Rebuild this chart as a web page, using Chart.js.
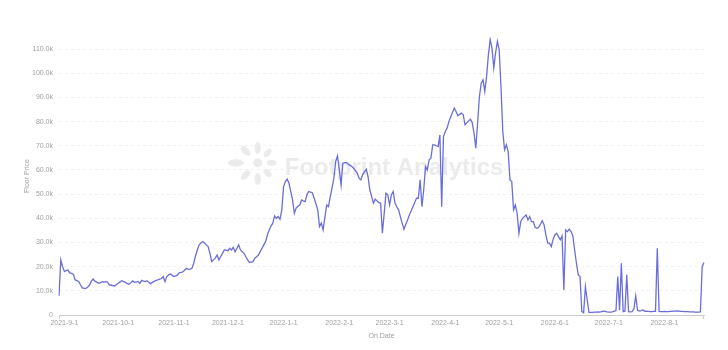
<!DOCTYPE html>
<html>
<head>
<meta charset="utf-8">
<script src="https://cdn.jsdelivr.net/npm/chart.js@4.4.0/dist/chart.umd.min.js"></script>
<style>
html, body { margin: 0; padding: 0; background: #fff; }
#floorchart { display: block; }
</style>
</head>
<body>
<canvas id="floorchart" width="728" height="350"></canvas>
<script>
// Daily floor price (in thousands), first day 2021-8-29
const startDay = Date.UTC(2021, 7, 29);
const floorPriceK = [
  7.9, 22.8, 20.0, 18.0, 18.4, 18.6, 17.4, 17.2, 16.8, 14.5,
  14.2, 13.8, 12.4, 11.2, 11.0, 11.0, 11.6, 12.4, 14.0, 14.9,
  14.0, 13.6, 13.1, 13.4, 13.8, 13.5, 13.8, 13.6, 12.4, 12.4,
  12.2, 12.0, 12.6, 13.1, 13.7, 14.2, 13.8, 13.5, 13.0, 12.7,
  13.4, 14.1, 13.5, 13.7, 13.9, 13.1, 14.3, 14.0, 13.8, 14.2,
  13.5, 12.9, 13.5, 13.9, 14.3, 14.5, 14.8, 15.1, 15.9, 13.8,
  15.9, 16.6, 17.0, 16.4, 15.9, 16.2, 16.6, 17.5, 17.6, 17.9,
  18.6, 19.3, 18.9, 19.0, 19.3, 21.4, 24.5, 26.9, 29.0, 29.8,
  30.4, 29.8, 29.0, 28.3, 25.5, 22.1, 22.8, 23.5, 24.8, 22.8,
  24.2, 25.5, 26.9, 26.8, 26.6, 27.6, 26.9, 28.0, 26.2, 27.5,
  29.0, 26.9, 26.2, 25.5, 24.1, 22.8, 21.7, 21.9, 22.1, 23.5,
  24.1, 24.8, 26.2, 27.6, 29.0, 30.4, 33.1, 35.2, 36.8, 38.0,
  41.0, 40.0, 40.7, 39.6, 43.5, 53.1, 55.2, 56.2, 54.5, 51.0,
  47.6, 42.1, 44.2, 45.0, 45.5, 47.6, 47.2, 46.9, 49.7, 51.1,
  50.8, 50.6, 48.3, 46.0, 43.5, 36.6, 38.0, 35.2, 40.5, 45.5,
  44.9, 49.0, 52.8, 56.6, 63.5, 65.8, 60.0, 53.8, 62.8, 63.0,
  63.1, 62.4, 61.9, 61.4, 60.7, 59.7, 58.7, 56.6, 55.9, 58.0,
  59.2, 60.3, 57.3, 51.8, 49.0, 46.3, 47.9, 47.2, 46.5, 46.3,
  33.8, 42.1, 50.4, 49.7, 45.5, 49.7, 51.1, 46.3, 44.8, 43.5,
  40.7, 38.0, 35.5, 37.4, 39.3, 41.4, 43.0, 44.8, 46.5, 48.3,
  48.3, 55.9, 44.8, 51.8, 61.4, 60.0, 64.2, 64.9, 70.4, 70.4,
  70.0, 69.7, 74.5, 44.8, 73.8, 75.9, 77.3, 80.0, 81.9, 83.8,
  85.6, 84.2, 82.4, 83.0, 83.5, 82.8, 78.7, 79.6, 80.3, 81.0,
  79.6, 75.2, 69.0, 79.4, 90.4, 95.9, 97.3, 92.5, 98.7, 107.7,
  113.9, 110.4, 102.2, 108.4, 113.2, 109.7, 94.5, 76.0, 68.3, 70.4,
  67.6, 55.9, 55.2, 43.5, 45.5, 42.1, 33.8, 38.6, 40.0, 40.7,
  41.4, 39.3, 40.7, 38.6, 38.6, 36.3, 35.9, 36.3, 37.6, 39.0,
  37.3, 33.1, 29.7, 29.7, 28.3, 31.3, 33.1, 33.8, 32.4, 31.1,
  32.7, 10.4, 35.2, 34.5, 35.5, 34.5, 32.7, 26.9, 21.4, 16.6,
  15.9, 1.4, 1.0, 11.7, 6.2, 1.0, 1.1, 1.1, 1.2, 1.2,
  1.3, 1.2, 1.4, 1.6, 1.5, 1.3, 1.2, 1.2, 1.3, 1.6,
  1.8, 15.9, 2.0, 21.4, 1.4, 1.6, 16.6, 1.4, 1.3, 1.4,
  2.5, 7.9, 2.0, 1.6, 1.8, 2.1, 1.5, 1.6, 1.5, 1.4,
  1.4, 1.5, 1.5, 27.6, 1.5, 1.4, 1.4, 1.5, 1.4, 1.4,
  1.5, 1.5, 1.6, 1.6, 1.7, 1.6, 1.5, 1.5, 1.4, 1.4,
  1.4, 1.3, 1.3, 1.3, 1.2, 1.2, 1.2, 1.3, 20.0, 21.7
];
const monthLabels = ['2021-9-1', '2021-10-1', '2021-11-1', '2021-12-1', '2022-1-1', '2022-2-1',
  '2022-3-1', '2022-4-1', '2022-5-1', '2022-6-1', '2022-7-1', '2022-8-1'];
const yTickValues = [0, 10, 20, 30, 40, 50, 60, 70, 80, 90, 100, 110];

// day labels, one per point
const dayLabels = [];
for (let i = 0; i < floorPriceK.length; i++) {
    const d = new Date(startDay + i * 86400000);
    dayLabels.push(d.getUTCFullYear() + '-' + (d.getUTCMonth() + 1) + '-' + d.getUTCDate());
}

//Styles
const lineColor = '#6a6ed8';
const textColor = '#a0a0a0';
const gridColor = '#f0f0f0';
const axisColor = '#cccccc';
const fontFamily = '"Liberation Sans", Arial, sans-serif';
const smallFont = {size: 7, family: fontFamily};

//Footprint watermark behind the line
const watermark = {
    id: 'watermark',
    beforeDatasetsDraw(chart) {
        const {ctx, chartArea: {left, top, width, height}} = chart;
        const cx = left + width * 0.308;
        const cy = top + height * 0.453;
        ctx.save();
        ctx.fillStyle = '#ebebeb';
        // petals: angle, distance, half length, half width
        const petals = [[180, 22, 8, 3.6], [225, 17, 6, 3.2], [270, 15, 6, 3.2], [315, 14, 5, 3],
                        [0, 14, 5, 3], [45, 14, 5, 3], [90, 16, 6, 3.2], [135, 17, 6, 3.2]];
        petals.forEach(([a, d, l, w]) => {
            const r = a * Math.PI / 180;
            ctx.beginPath();
            ctx.ellipse(cx + Math.cos(r) * d, cy + Math.sin(r) * d, l, w, r, 0, Math.PI * 2);
            ctx.fill();
        });
        ctx.beginPath();
        ctx.arc(cx, cy, 4.5, 0, Math.PI * 2);
        ctx.fill();
        ctx.font = 'bold 24px ' + fontFamily;
        ctx.textBaseline = 'alphabetic';
        ctx.textAlign = 'left';
        ctx.fillText('Footprint Analytics', left + width * 0.35, top + height * 0.497);
        ctx.restore();
    },
    afterDraw(chart) {
        const {ctx, chartArea: {left, right, bottom}} = chart;
        ctx.save();
        ctx.strokeStyle = axisColor;
        ctx.lineWidth = 1;
        ctx.beginPath();
        ctx.moveTo(left + 0.5, bottom);
        ctx.lineTo(left + 0.5, bottom + 4);
        ctx.moveTo(right - 0.5, bottom);
        ctx.lineTo(right - 0.5, bottom + 4);
        ctx.stroke();
        ctx.restore();
    }
};

const ctx = document.getElementById('floorchart');
const config = {
    type: 'line',
    data: {
        labels: dayLabels,
        datasets: [{
            label: 'Floor Price',
            data: floorPriceK,
            borderColor: lineColor,
            borderWidth: 1.3,
            pointRadius: 0,
            fill: false,
            tension: 0
        }]
    },
    plugins: [watermark],
    options: {
        responsive: false,
        animation: false,
        devicePixelRatio: 1,
        layout: {padding: {top: 37, right: 24, bottom: 0, left: 0}},
        plugins: {
            legend: {display: false},
            title: {display: false},
            tooltip: {enabled: false}
        },
        scales: {
            x: {
                grid: {display: false, drawTicks: false},
                border: {display: true, color: axisColor},
                ticks: {
                    autoSkip: false,
                    maxRotation: 0,
                    minRotation: 0,
                    padding: 4,
                    color: textColor,
                    font: smallFont,
                    callback: function (value) {
                        const l = this.getLabelForValue(value);
                        return monthLabels.includes(l) ? l : '';
                    }
                },
                title: {display: true, text: 'On Date', color: textColor, font: smallFont, padding: {top: 0, bottom: 10}},
                afterFit: function (scale) { scale.height = 35; }
            },
            y: {
                min: 0,
                max: 115,
                afterBuildTicks: function (scale) {
                    scale.ticks = yTickValues.map(v => ({value: v}));
                },
                grid: {
                    drawTicks: false,
                    color: function (c) { return c.tick && c.tick.value === 0 ? 'rgba(0,0,0,0)' : gridColor; }
                },
                border: {display: false, dash: [3, 3]},
                ticks: {
                    padding: 6,
                    color: textColor,
                    font: smallFont,
                    callback: function (value) { return value === 0 ? '0' : value.toFixed(1) + 'k'; }
                },
                title: {display: true, text: 'Floor Price', color: textColor, font: smallFont, padding: {top: 23, bottom: 0}},
                afterFit: function (scale) { scale.width = 59; }
            }
        }
    }
};

var floorChart = new Chart(ctx, config);
</script>
</body>
</html>
